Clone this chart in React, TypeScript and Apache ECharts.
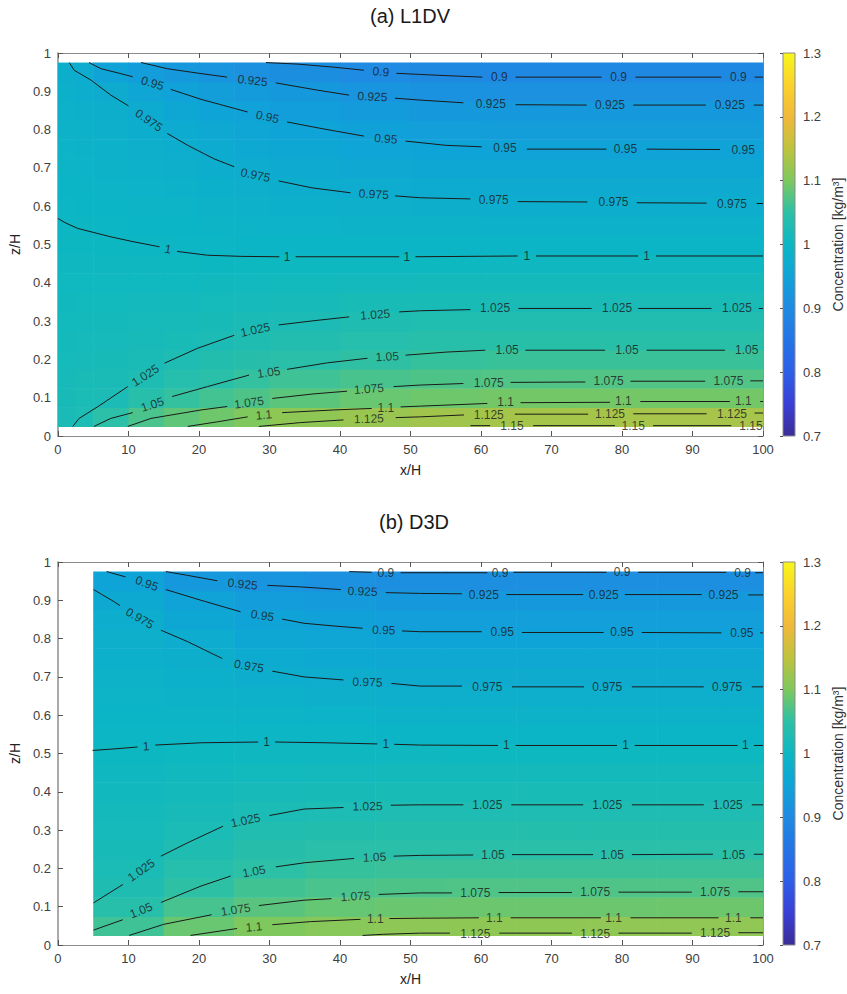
import React, { useEffect, useRef } from 'react';
import * as echarts from 'echarts';

const FONT = '"Liberation Sans", Arial, Helvetica, sans-serif';
// colour scale, evenly spaced from 0.7 to 1.3 (steps of 0.05)
const CMAP = ['#3b2d96', '#3a3fd6', '#2e5ee8', '#2374e6', '#1f8ae2', '#0fa3d8', '#0cb7c3', '#2cc0a6', '#7ec85e', '#bfc33d', '#f0b93b', '#fbd22c', '#f7f61b'];

const TITLES = ['(a) L1DV', '(b) D3D'];
const X_TICKS = { min: 0, max: 100, interval: 10 };
const Z_TICKS = { min: 0, max: 1, interval: 0.1 };
const CBAR_TICKS = { min: 0.7, max: 1.3, interval: 0.1 };
const CBAR_NAME = 'Concentration [kg/m³]';

// cell edges (z rows, centred at 0.05 ... 0.95)
const Z_EDGES = [0.025, 0.075, 0.125, 0.175, 0.225, 0.275, 0.325, 0.375, 0.425, 0.475, 0.525, 0.575, 0.625, 0.675, 0.725, 0.775, 0.825, 0.875, 0.925, 0.975];
const X_EDGES_A = [0, 2.5, 5, 10, 15, 20, 25, 30, 40, 50, 60, 80, 100];
const X_EDGES_B = [5, 15, 25, 35, 45, 55, 65, 75, 85, 95, 100];

// concentration per column (bottom -> top)
const FIELD_A = [
  [1.022, 1.019, 1.017, 1.014, 1.012, 1.010, 1.008, 1.006, 1.004, 1.002, 1.000, 0.998, 0.995, 0.993, 0.991, 0.988, 0.985, 0.982, 0.978],
  [1.026, 1.023, 1.020, 1.017, 1.015, 1.012, 1.010, 1.007, 1.004, 1.002, 0.999, 0.996, 0.993, 0.990, 0.987, 0.984, 0.981, 0.977, 0.973],
  [1.048, 1.025, 1.022, 1.019, 1.016, 1.013, 1.010, 1.007, 1.004, 1.001, 0.998, 0.995, 0.991, 0.988, 0.984, 0.981, 0.978, 0.971, 0.951],
  [1.068, 1.043, 1.028, 1.022, 1.018, 1.015, 1.011, 1.007, 1.004, 1.000, 0.996, 0.993, 0.989, 0.985, 0.981, 0.977, 0.970, 0.956, 0.937],
  [1.081, 1.055, 1.040, 1.028, 1.021, 1.017, 1.012, 1.007, 1.003, 0.998, 0.994, 0.990, 0.985, 0.981, 0.977, 0.969, 0.959, 0.948, 0.927],
  [1.091, 1.064, 1.047, 1.036, 1.025, 1.019, 1.014, 1.008, 1.002, 0.997, 0.992, 0.987, 0.982, 0.977, 0.970, 0.962, 0.953, 0.939, 0.922],
  [1.101, 1.071, 1.054, 1.041, 1.030, 1.022, 1.015, 1.009, 1.003, 0.996, 0.990, 0.985, 0.979, 0.972, 0.964, 0.957, 0.948, 0.933, 0.914],
  [1.113, 1.079, 1.061, 1.046, 1.035, 1.025, 1.017, 1.010, 1.003, 0.996, 0.989, 0.982, 0.976, 0.968, 0.960, 0.952, 0.940, 0.927, 0.908],
  [1.121, 1.087, 1.067, 1.052, 1.040, 1.029, 1.020, 1.011, 1.003, 0.995, 0.987, 0.980, 0.972, 0.963, 0.955, 0.945, 0.933, 0.920, 0.901],
  [1.127, 1.091, 1.071, 1.056, 1.043, 1.031, 1.021, 1.012, 1.003, 0.995, 0.987, 0.978, 0.970, 0.961, 0.952, 0.941, 0.930, 0.915, 0.897],
  [1.130, 1.094, 1.073, 1.058, 1.044, 1.033, 1.022, 1.013, 1.004, 0.995, 0.986, 0.977, 0.968, 0.959, 0.950, 0.939, 0.928, 0.913, 0.895],
  [1.131, 1.094, 1.073, 1.058, 1.044, 1.033, 1.022, 1.013, 1.004, 0.995, 0.986, 0.977, 0.968, 0.959, 0.950, 0.939, 0.928, 0.913, 0.895],
];

const FIELD_B = [
  [1.061, 1.043, 1.030, 1.023, 1.019, 1.016, 1.012, 1.008, 1.005, 1.001, 0.998, 0.994, 0.990, 0.987, 0.983, 0.980, 0.976, 0.966, 0.952],
  [1.087, 1.066, 1.051, 1.040, 1.030, 1.023, 1.018, 1.013, 1.008, 1.003, 0.998, 0.993, 0.988, 0.983, 0.978, 0.972, 0.961, 0.950, 0.929],
  [1.101, 1.078, 1.063, 1.050, 1.041, 1.032, 1.023, 1.017, 1.010, 1.004, 0.997, 0.991, 0.984, 0.977, 0.969, 0.960, 0.951, 0.937, 0.922],
  [1.108, 1.085, 1.068, 1.056, 1.045, 1.036, 1.026, 1.019, 1.011, 1.004, 0.997, 0.989, 0.981, 0.974, 0.965, 0.956, 0.945, 0.932, 0.914],
  [1.112, 1.088, 1.071, 1.059, 1.047, 1.038, 1.028, 1.020, 1.012, 1.004, 0.995, 0.987, 0.979, 0.971, 0.962, 0.953, 0.942, 0.930, 0.910],
  [1.113, 1.089, 1.072, 1.059, 1.047, 1.038, 1.028, 1.020, 1.012, 1.003, 0.995, 0.987, 0.979, 0.971, 0.962, 0.953, 0.942, 0.929, 0.910],
  [1.113, 1.089, 1.072, 1.059, 1.047, 1.038, 1.028, 1.020, 1.012, 1.003, 0.995, 0.987, 0.979, 0.971, 0.962, 0.953, 0.942, 0.929, 0.910],
  [1.114, 1.089, 1.072, 1.059, 1.047, 1.038, 1.028, 1.020, 1.012, 1.003, 0.995, 0.987, 0.979, 0.971, 0.962, 0.953, 0.942, 0.929, 0.910],
  [1.114, 1.090, 1.072, 1.059, 1.047, 1.038, 1.028, 1.020, 1.012, 1.003, 0.995, 0.987, 0.979, 0.971, 0.962, 0.953, 0.942, 0.929, 0.910],
  [1.114, 1.090, 1.072, 1.059, 1.047, 1.038, 1.028, 1.020, 1.012, 1.003, 0.995, 0.987, 0.979, 0.971, 0.962, 0.953, 0.942, 0.929, 0.910],
];

// ---------- contour lines, panel (a): segments [x, z] and labels [x, z, angle] ----------
const A_0900 = { level: 0.9,
  segs: [[[29.5, 0.975], [34, 0.971], [39.1, 0.963], [43.4, 0.955]], [[48.0, 0.947], [51.4, 0.944], [55, 0.941], [60.2, 0.937]], [[64.9, 0.937], [77.1, 0.937]], [[81.9, 0.937], [94.1, 0.937]], [[98.8, 0.937], [100, 0.937]]],
  labels: [[45.8, 0.951, -5], [62.6, 0.937, 0], [79.5, 0.937, 0], [96.5, 0.937, 0]] };
const A_0925 = { level: 0.925,
  segs: [[[11.8, 0.975], [15.5, 0.959], [20, 0.947], [24, 0.937]], [[30.9, 0.922], [36.8, 0.903], [41.3, 0.89]], [[47.8, 0.882], [51.4, 0.877], [57.5, 0.87]], [[64.9, 0.865], [75, 0.864]], [[81.6, 0.864], [91.9, 0.864]], [[98.7, 0.864], [100, 0.864]]],
  labels: [[27.6, 0.928, -6], [44.6, 0.886, -3], [61.4, 0.866, 0], [78.3, 0.864, 0], [95.3, 0.864, 0]] };
const A_0950 = { level: 0.95,
  segs: [[[4.4, 0.975], [6.1, 0.959], [8.5, 0.948], [10.6, 0.938]], [[16.0, 0.905], [20.3, 0.879], [26.9, 0.846]], [[32.5, 0.82], [37.3, 0.803], [43.4, 0.783]], [[49.3, 0.77], [55, 0.759], [60.1, 0.755]], [[66.5, 0.749], [77.8, 0.749]], [[83.5, 0.749], [93.9, 0.748]]],
  labels: [[13.4, 0.921, -17], [29.7, 0.833, -12], [46.5, 0.776, -4], [63.4, 0.751, 0], [80.5, 0.749, 0], [97.2, 0.748, 0]] };
const A_0975 = { level: 0.975,
  segs: [[[1.6, 0.975], [2.3, 0.955], [4.7, 0.929], [7.5, 0.89], [10.0, 0.862]], [[15.5, 0.79], [18.4, 0.759], [22.1, 0.724], [25, 0.703]], [[31.3, 0.666], [36, 0.648], [41.5, 0.635]], [[47.8, 0.627], [51.4, 0.622], [58.5, 0.619]], [[65.2, 0.612], [75.1, 0.611]], [[82.1, 0.609], [92.0, 0.608]], [[99.1, 0.607], [100, 0.607]]],
  labels: [[12.9, 0.824, -34], [28, 0.681, -12], [44.8, 0.631, -3], [61.8, 0.616, 0], [78.8, 0.61, 0], [95.6, 0.607, 0]] };
const A_1000 = { level: 1,
  segs: [[[0, 0.568], [1, 0.557], [2.8, 0.542], [7.5, 0.52], [10.5, 0.508], [14.4, 0.494]], [[16.9, 0.482], [21.2, 0.472], [26, 0.469], [31.4, 0.468]], [[33.7, 0.468], [48.4, 0.468]], [[50.7, 0.468], [65.2, 0.47]], [[67.8, 0.47], [82.3, 0.47]], [[84.8, 0.47], [100, 0.47]]],
  labels: [[15.6, 0.488, -10], [32.5, 0.468, 0], [49.5, 0.468, 0], [66.5, 0.47, 0], [83.5, 0.47, 0]] };
const A_1025 = { level: 1.025,
  segs: [[[2.1, 0.025], [3, 0.046], [5.6, 0.076], [9.9, 0.129]], [[15.1, 0.19], [19.8, 0.229], [25, 0.263]], [[31.3, 0.29], [36.3, 0.301], [41.3, 0.311]], [[48.4, 0.324], [51.4, 0.327], [58.5, 0.33]], [[65.3, 0.333], [75.7, 0.333]], [[82.3, 0.333], [92.7, 0.333]], [[99.4, 0.333], [100, 0.333]]],
  labels: [[12.4, 0.158, 33], [28, 0.277, 12], [45, 0.317, 4], [62, 0.333, 0], [79.3, 0.334, 0], [96.3, 0.333, 0]] };
const A_1050 = { level: 1.05,
  segs: [[[5.1, 0.025], [7.5, 0.046], [10.6, 0.061]], [[16.2, 0.103], [21.2, 0.129], [27.1, 0.159]], [[32.5, 0.174], [38.2, 0.191], [43.9, 0.203]], [[49.3, 0.211], [55, 0.219], [60.6, 0.224]], [[66.3, 0.224], [77.6, 0.224]], [[83.5, 0.224], [94.6, 0.224]]],
  labels: [[13.4, 0.082, 18], [29.9, 0.166, 8], [46.7, 0.207, 3], [63.7, 0.224, 0], [80.7, 0.224, 0], [97.7, 0.224, 0]] };
const A_1075 = { level: 1.075,
  segs: [[[9.9, 0.025], [13.2, 0.046], [20.3, 0.068], [24.0, 0.077]], [[30.4, 0.098], [36.3, 0.11], [41, 0.117]], [[47.6, 0.129], [51.4, 0.133], [57.5, 0.137]], [[64.2, 0.14], [74.8, 0.141]], [[81.2, 0.143], [91.8, 0.143]], [[98.2, 0.144], [100, 0.144]]],
  labels: [[27.1, 0.087, 8], [44.1, 0.123, 4], [61.1, 0.139, 0], [78.1, 0.143, 0], [95.1, 0.143, 0]] };
const A_1100 = { level: 1.1,
  segs: [[[18.4, 0.025], [22.6, 0.037], [26.9, 0.05]], [[31.8, 0.061], [39.1, 0.068], [44.5, 0.072]], [[48.6, 0.076], [51.4, 0.078], [60.9, 0.085]], [[65.6, 0.087], [78.3, 0.088]], [[82.6, 0.09], [95.3, 0.09]], [[99.6, 0.09], [100, 0.09]]],
  labels: [[29.2, 0.055, 5], [46.5, 0.074, 0], [63.5, 0.088, 0], [80.2, 0.091, 0], [97.2, 0.091, 0]] };
const A_1125 = { level: 1.125,
  segs: [[[28.5, 0.025], [34.4, 0.035], [40.5, 0.042]], [[47.9, 0.048], [51.4, 0.05], [57.6, 0.055]], [[64.8, 0.057], [75.2, 0.057]], [[81.6, 0.058], [92.0, 0.058]], [[98.8, 0.06], [100, 0.06]]],
  labels: [[44.1, 0.045, 2], [61.1, 0.055, 0], [78.3, 0.057, 0], [95.6, 0.058, 0]] };
const A_1150 = { level: 1.15,
  segs: [[[58.5, 0.027], [61.3, 0.027]], [[67.4, 0.027], [79.0, 0.027]], [[84.4, 0.027], [95.5, 0.027]]],
  labels: [[64.4, 0.027, 0], [81.6, 0.027, 0], [98.3, 0.027, 0]] };

// ---------- contour lines, panel (b) ----------
const B_0900 = { level: 0.9,
  segs: [[[41.3, 0.975], [44.5, 0.973]], [[48.6, 0.972], [60.9, 0.972]], [[64.6, 0.973], [77.8, 0.973]], [[82.3, 0.973], [94.8, 0.973]], [[98.9, 0.972], [100, 0.972]]],
  labels: [[46.5, 0.972, 0], [62.7, 0.972, 0], [80, 0.973, 0], [97.1, 0.972, 0]] };
const B_0925 = { level: 0.925,
  segs: [[[15.3, 0.975], [18.4, 0.965], [22.6, 0.951]], [[29.7, 0.939], [34.4, 0.935], [40.1, 0.928]], [[46.5, 0.92], [51.4, 0.918], [57.3, 0.917]], [[63.6, 0.915], [74.5, 0.915]], [[80.4, 0.915], [91.3, 0.915]], [[97.9, 0.914], [100, 0.914]]],
  labels: [[26.2, 0.942, -6], [43.2, 0.923, -2], [60.4, 0.915, 0], [77.4, 0.915, 0], [94.4, 0.915, 0]] };
const B_0950 = { level: 0.95,
  segs: [[[6.9, 0.975], [9.6, 0.961]], [[15.3, 0.928], [20.3, 0.9], [25.9, 0.87]], [[31.8, 0.851], [34.9, 0.84], [39.1, 0.833], [43.2, 0.827]], [[48.8, 0.82], [51.4, 0.818], [60.1, 0.818]], [[65.8, 0.816], [77.4, 0.816]], [[82.8, 0.816], [94.1, 0.815]], [[99.6, 0.815], [100, 0.815]]],
  labels: [[12.6, 0.944, -20], [29, 0.86, -9], [46.2, 0.822, -2], [63, 0.816, 0], [80, 0.816, 0], [97, 0.815, 0]] };
const B_0975 = { level: 0.975,
  segs: [[[5.05, 0.928], [8, 0.896], [8.8, 0.886]], [[14.6, 0.822], [18.4, 0.792], [23.3, 0.748]], [[30.4, 0.715], [34.9, 0.7], [40.5, 0.692]], [[47.3, 0.683], [51.4, 0.676], [57.3, 0.676]], [[64.4, 0.674], [74.6, 0.674]], [[81.4, 0.674], [91.6, 0.674]], [[98.4, 0.674], [100, 0.674]]],
  labels: [[11.6, 0.853, -30], [27.1, 0.728, -10], [43.9, 0.686, -2], [60.9, 0.674, 0], [77.9, 0.673, 0], [94.9, 0.673, 0]] };
const B_1000 = { level: 1,
  segs: [[[4.9, 0.508], [8, 0.512], [11.3, 0.517]], [[13.8, 0.522], [20.3, 0.528], [28.4, 0.53]], [[30.8, 0.53], [38, 0.528], [45.3, 0.525]], [[47.7, 0.524], [51.4, 0.522], [62.4, 0.521]], [[64.9, 0.521], [79.3, 0.521]], [[81.8, 0.521], [96.4, 0.521]], [[98.7, 0.521], [100, 0.521]]],
  labels: [[12.5, 0.519, 3], [29.6, 0.53, 0], [46.5, 0.525, 0], [63.6, 0.521, 0], [80.5, 0.521, 0], [97.5, 0.521, 0]] };
const B_1025 = { level: 1.025,
  segs: [[[5.05, 0.11], [9.2, 0.158]], [[14.6, 0.232], [18.4, 0.267], [23.4, 0.31]], [[30.0, 0.338], [34.9, 0.355], [40.5, 0.359]], [[47.2, 0.365], [51.4, 0.366], [57.5, 0.366]], [[64.3, 0.366], [74.5, 0.366]], [[81.4, 0.366], [91.6, 0.366]], [[98.4, 0.366], [100, 0.366]]],
  labels: [[11.8, 0.195, 35], [26.6, 0.325, 12], [43.9, 0.362, 1], [60.9, 0.366, 0], [77.9, 0.366, 0], [95, 0.366, 0]] };
const B_1050 = { level: 1.05,
  segs: [[[5.05, 0.039], [9.2, 0.066]], [[14.6, 0.111], [20.3, 0.154], [24.5, 0.18]], [[30.9, 0.204], [35.1, 0.215], [42, 0.226]], [[47.6, 0.232], [51.4, 0.234], [58.9, 0.235]], [[64.4, 0.236], [75.9, 0.236]], [[81.4, 0.236], [92.9, 0.237]], [[98.7, 0.237], [100, 0.237]]],
  labels: [[11.8, 0.09, 22], [27.8, 0.192, 10], [44.9, 0.229, 2], [61.7, 0.235, 0], [78.6, 0.236, 0], [95.8, 0.236, 0]] };
const B_1075 = { level: 1.075,
  segs: [[[10.1, 0.025], [15, 0.054], [21.8, 0.079]], [[28.5, 0.103], [34.9, 0.117], [38.8, 0.121]], [[45.5, 0.132], [51.4, 0.136], [55.9, 0.136]], [[62.5, 0.137], [72.9, 0.137]], [[79.5, 0.138], [89.9, 0.138]], [[96.5, 0.139], [100, 0.139]]],
  labels: [[25.2, 0.092, 9], [42.2, 0.127, 3], [59.2, 0.136, 0], [76.2, 0.138, 0], [93.2, 0.138, 0]] };
const B_1100 = { level: 1.1,
  segs: [[[18.8, 0.025], [25.4, 0.043]], [[30.4, 0.053], [35.8, 0.061], [42.9, 0.067]], [[47.0, 0.069], [51.4, 0.07], [59.7, 0.071]], [[64.2, 0.071], [77.0, 0.071]], [[81.2, 0.071], [93.7, 0.071]], [[98.2, 0.071], [100, 0.071]]],
  labels: [[27.8, 0.047, 5], [45, 0.068, 0], [61.9, 0.07, 0], [78.8, 0.07, 0], [95.8, 0.07, 0]] };
const B_1125 = { level: 1.125,
  segs: [[[43.2, 0.025], [46.2, 0.028], [51.4, 0.031], [55.6, 0.031]], [[62.6, 0.031], [72.9, 0.031]], [[79.5, 0.031], [89.9, 0.031]], [[96.5, 0.032], [100, 0.032]]],
  labels: [[59.2, 0.03, 0], [76.2, 0.03, 0], [93.2, 0.032, 0]] };

const CONTOURS_A = [A_0900, A_0925, A_0950, A_0975, A_1000, A_1025, A_1050, A_1075, A_1100, A_1125, A_1150];
const CONTOURS_B = [B_0900, B_0925, B_0950, B_0975, B_1000, B_1025, B_1050, B_1075, B_1100, B_1125];

// ---------- layout ----------
const PANELS = [
  { title: TITLES[0], top: 53, titleX: 410, titleY: 16 },
  { title: TITLES[1], top: 562, titleX: 414, titleY: 522 },
];
const PLOT_LEFT = 57;
const PLOT_W = 706;
const PLOT_H = 383;
const CBAR_LEFT = 783;
const CBAR_W = 12;

const AXIS_GREY = '#8c8c8c';
const TEXT_GREY = '#404040';

function buildCells(xEdges: number[], field: number[][]) {
  const out: number[][] = [];
  for (let i = 0; i < field.length; i++) {
    for (let j = 0; j < field[i].length; j++) {
      out.push([xEdges[i], xEdges[i + 1], Z_EDGES[j], Z_EDGES[j + 1], field[i][j]]);
    }
  }
  return out;
}

function buildOption() {
  const grid: any[] = [];
  const xAxis: any[] = [];
  const yAxis: any[] = [];
  const series: any[] = [];
  const graphic: any[] = [];
  const cellSeriesIdx: number[] = [];

  const fields = [buildCells(X_EDGES_A, FIELD_A), buildCells(X_EDGES_B, FIELD_B)];
  const contours = [CONTOURS_A, CONTOURS_B];

  PANELS.forEach((p, k) => {
    grid.push({ left: PLOT_LEFT, top: p.top, width: PLOT_W, height: PLOT_H, containLabel: false });
    grid.push({ left: CBAR_LEFT, top: p.top, width: CBAR_W, height: PLOT_H, containLabel: false });
    const gMain = 2 * k;
    const gBar = 2 * k + 1;
    const xi = xAxis.length;
    const yi = yAxis.length;

    xAxis.push({
      type: 'value', gridIndex: gMain, position: 'bottom', ...X_TICKS,
      name: 'x/H', nameLocation: 'middle', nameGap: 27,
      nameTextStyle: { fontSize: 14, color: '#222', fontFamily: FONT },
      axisLine: { show: true, onZero: false, lineStyle: { color: AXIS_GREY, width: 1 } },
      axisTick: { show: true, inside: true, length: 5, lineStyle: { color: '#555' } },
      axisLabel: { fontSize: 13, color: TEXT_GREY, margin: 7, fontFamily: FONT },
      splitLine: { show: false },
    });
    xAxis.push({
      type: 'value', gridIndex: gMain, position: 'top', ...X_TICKS,
      axisLine: { show: true, onZero: false, lineStyle: { color: AXIS_GREY, width: 1 } },
      axisTick: { show: true, inside: true, length: 5, lineStyle: { color: '#555' } },
      axisLabel: { show: false }, splitLine: { show: false },
    });
    yAxis.push({
      type: 'value', gridIndex: gMain, position: 'left', ...Z_TICKS,
      name: 'z/H', nameLocation: 'middle', nameGap: 30, nameRotate: 90,
      nameTextStyle: { fontSize: 14, color: '#222', fontFamily: FONT },
      axisLine: { show: true, onZero: false, lineStyle: { color: AXIS_GREY, width: 1.5 } },
      axisTick: { show: true, inside: true, length: 5, lineStyle: { color: '#555' } },
      axisLabel: { fontSize: 13, color: TEXT_GREY, margin: 7, fontFamily: FONT },
      splitLine: { show: false },
    });
    yAxis.push({
      type: 'value', gridIndex: gMain, position: 'right', ...Z_TICKS,
      axisLine: { show: true, onZero: false, lineStyle: { color: AXIS_GREY, width: 1 } },
      axisTick: { show: true, inside: true, length: 5, lineStyle: { color: '#555' } },
      axisLabel: { show: false }, splitLine: { show: false },
    });
    xAxis.push({ type: 'value', gridIndex: gBar, min: 0, max: 1, show: false });
    yAxis.push({
      type: 'value', gridIndex: gBar, position: 'right', ...CBAR_TICKS,
      name: CBAR_NAME, nameLocation: 'middle', nameGap: 36, nameRotate: 90,
      nameTextStyle: { fontSize: 14, color: '#333', fontFamily: FONT },
      axisLine: { show: false },
      axisTick: { show: true, inside: true, length: 3, lineStyle: { color: '#555' } },
      axisLabel: { fontSize: 13, color: TEXT_GREY, margin: 8, fontFamily: FONT },
      splitLine: { show: false },
    });

    cellSeriesIdx.push(series.length);
    series.push({
      type: 'custom', xAxisIndex: xi, yAxisIndex: yi, clip: true, z: 1,
      encode: { x: [0, 1], y: [2, 3] },
      data: fields[k],
      renderItem: (params: any, api: any) => {
        const p0 = api.coord([api.value(0), api.value(3)]);
        const p1 = api.coord([api.value(1), api.value(2)]);
        const c = api.visual('color');
        return {
          type: 'rect',
          shape: { x: p0[0], y: p0[1], width: p1[0] - p0[0] + 0.6, height: p1[1] - p0[1] + 0.6 },
          style: { fill: c, stroke: null },
        };
      },
    });

    const segData: any[] = [];
    const labData: any[] = [];
    contours[k].forEach((c) => {
      c.segs.forEach((s) => segData.push({ coords: s }));
      c.labels.forEach((l) => labData.push({ name: String(c.level), value: [l[0], l[1]], label: { rotate: l[2] } }));
    });
    series.push({
      type: 'lines', coordinateSystem: 'cartesian2d', xAxisIndex: xi, yAxisIndex: yi,
      polyline: true, z: 3, silent: true,
      lineStyle: { color: '#1a1a1a', width: 1, opacity: 1, curveness: 0 },
      data: segData,
    });
    series.push({
      type: 'scatter', xAxisIndex: xi, yAxisIndex: yi, symbolSize: 0, z: 4, silent: true,
      label: {
        show: true, position: 'inside', formatter: (q: any) => q.name,
        fontSize: 12, color: '#1a1a1a', fontFamily: FONT,
      },
      labelLayout: { hideOverlap: false },
      data: labData,
    });

    series.push({
      type: 'custom', xAxisIndex: xi + 2, yAxisIndex: yi + 2, z: -1,
      data: [[0, 0.7]],
      renderItem: (params: any, api: any) => {
        const p0 = api.coord([0, CBAR_TICKS.max]);
        const p1 = api.coord([1, CBAR_TICKS.min]);
        return {
          type: 'rect',
          shape: { x: p0[0], y: p0[1], width: p1[0] - p0[0], height: p1[1] - p0[1] },
          style: {
            fill: new echarts.graphic.LinearGradient(0, 1, 0, 0,
              CMAP.map((col, i) => ({ offset: i / (CMAP.length - 1), color: col }))),
            stroke: AXIS_GREY, lineWidth: 1,
          },
        };
      },
    });

    graphic.push({
      type: 'text', x: p.titleX, y: p.titleY,
      style: { text: p.title, fontSize: 20, fill: '#1a1a1a', fontFamily: FONT, align: 'center', verticalAlign: 'middle' },
    });
  });

  return {
    animation: false,
    backgroundColor: '#ffffff',
    textStyle: { fontFamily: FONT },
    grid, xAxis, yAxis, series, graphic,
    visualMap: [{
      type: 'continuous', show: false, min: CBAR_TICKS.min, max: CBAR_TICKS.max,
      dimension: 4, seriesIndex: cellSeriesIdx,
      inRange: { color: CMAP },
    }],
  };
}

export default function App() {
  const ref = useRef<HTMLDivElement>(null);
  useEffect(() => {
    if (!ref.current) return;
    const chart = echarts.init(ref.current, undefined, { renderer: 'svg' });
    chart.setOption(buildOption() as any);
    return () => chart.dispose();
  }, []);
  return <div ref={ref} style={{ position: 'absolute', left: 0, top: 0, width: 847, height: 994, background: '#fff' }} />;
}
